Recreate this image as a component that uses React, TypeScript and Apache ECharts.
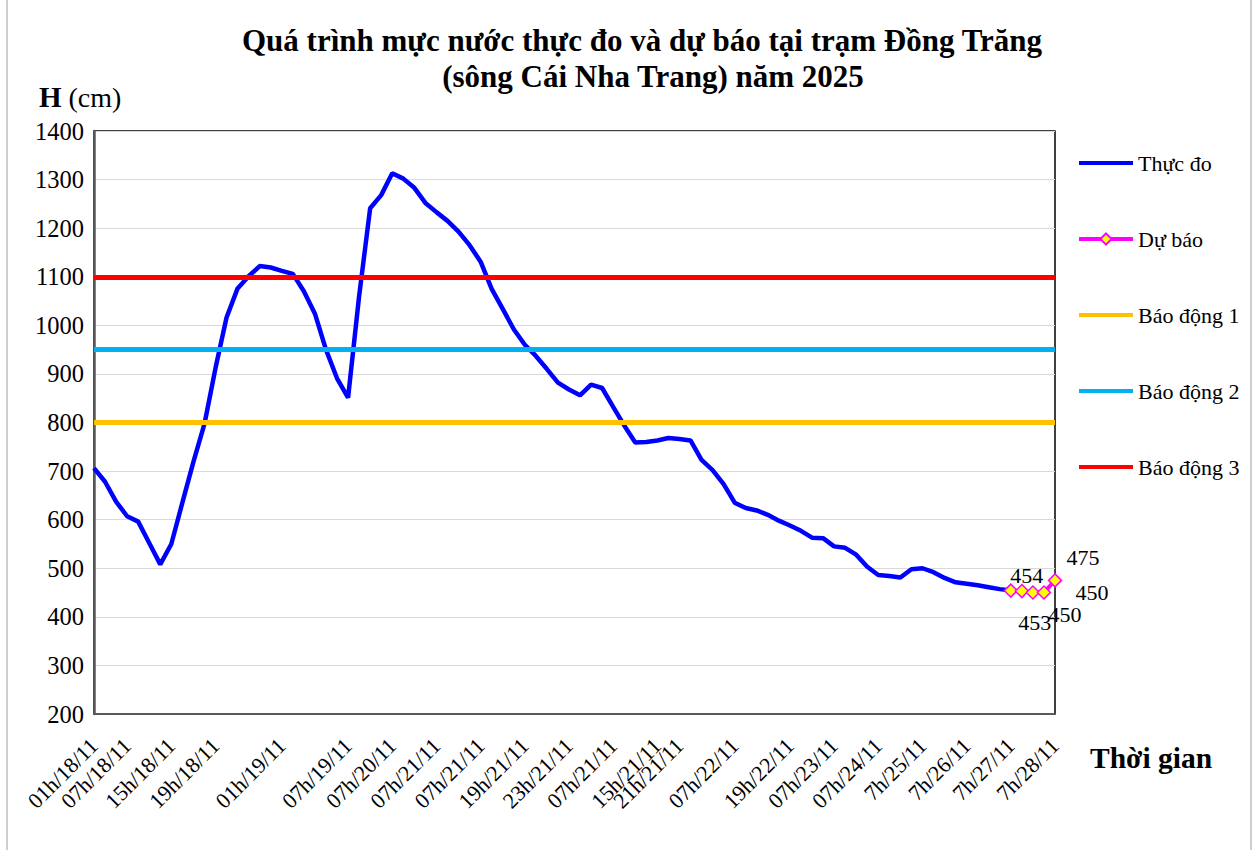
import React, { useEffect, useRef } from "react";
import * as echarts from "echarts";

// ---- data ----
const labelIndex = [0, 3, 7, 11, 17, 23, 27, 31, 35, 39, 43, 47, 51, 53, 58, 63, 67, 71, 75, 79, 83, 87];
const labelText = [
  "01h/18/11", "07h/18/11", "15h/18/11", "19h/18/11", "01h/19/11", "07h/19/11",
  "07h/20/11", "07h/21/11", "07h/21/11", "19h/21/11", "23h/21/11", "07h/21/11",
  "15h/21/11", "21h/21/11", "07h/22/11", "19h/22/11", "07h/23/11", "07h/24/11",
  "7h/25/11", "7h/26/11", "7h/27/11", "7h/28/11",
];
const measured = [
  706, 678, 637, 607, 596, 552, 508, 550, 635, 719,
  797, 912, 1016, 1076, 1101, 1122, 1119, 1112, 1106, 1070,
  1024, 950, 891, 851, 1060, 1241, 1268, 1313, 1302, 1283,
  1252, 1233, 1215, 1193, 1165, 1131, 1075, 1034, 992, 960,
  937, 910, 882, 868, 856, 878, 871, 832, 794, 759,
  760, 763, 768, 766, 763, 723, 702, 673, 635, 624,
  619, 610, 598, 588, 577, 563, 562, 545, 542, 528,
  503, 486, 484, 481, 498, 500, 492, 480, 471, 468,
  465, 461, 457, 454,
];
const forecast = [454, 453, 450, 450, 475];
const forecastStart = 83;
const alarm1 = 800;
const alarm2 = 950;
const alarm3 = 1100;
const yMin = 200;
const yMax = 1400;
const yStep = 100;

const seriesNames = ["Thực đo", "Dự báo", "Báo động 1", "Báo động 2", "Báo động 3"];

// ---- style ----
const FONT = "'Liberation Serif', 'Times New Roman', serif";
const forecastLabelOffset = [[16, -15], [13, 31], [32, 22], [48, 0], [28, -23]];
// thick line legend icon (bounding box 54x14, strip in the middle)
const LINE_ICON =
  "path://M0,0L0.01,0L0.01,0.01Z M0,5L54,5L54,9L0,9Z M54,14L53.99,14L53.99,13.99Z";

const pointCount = forecastStart + forecast.length;
const categories = Array.from({ length: pointCount }, (_, i) => {
  const k = labelIndex.indexOf(i);
  return k >= 0 ? labelText[k] : "";
});

function alarmSeries(name: string, value: number, color: string) {
  return {
    name,
    type: "line",
    data: [],
    color,
    symbol: "none",
    lineStyle: { color, width: 5 },
    z: 3,
    markLine: {
      silent: true,
      symbol: ["none", "none"],
      label: { show: false },
      lineStyle: { color, width: 5, type: "solid" },
      data: [{ yAxis: value }],
    },
  };
}

export default function App() {
  const ref = useRef<HTMLDivElement>(null);
  useEffect(() => {
    if (!ref.current) return;
    const chart = echarts.init(ref.current, undefined, { renderer: "svg" });
    const measuredData = categories.map((_, i) => (i < measured.length ? measured[i] : null));
    const forecastData = categories.map((_, i) => {
      const k = i - forecastStart;
      return k < 0 ? null : forecast[k];
    });
    chart.setOption({
      animation: false,
      backgroundColor: "#fff",
      textStyle: { fontFamily: FONT },
      graphic: [
        {
          type: "rect",
          shape: { x: 7, y: -4, width: 1244, height: 862 },
          style: { fill: "none", stroke: "#BFBFBF", lineWidth: 1.5 },
          silent: true,
        },
        {
          type: "text",
          x: 642,
          y: 40,
          style: {
            text: "Quá trình mực nước thực đo và dự báo tại trạm Đồng Trăng",
            fontFamily: FONT,
            fontSize: 31,
            fontWeight: "bold",
            fill: "#000",
            textAlign: "center",
            textVerticalAlign: "middle",
          },
        },
        {
          type: "text",
          x: 653,
          y: 76,
          style: {
            text: "(sông Cái Nha Trang) năm 2025",
            fontFamily: FONT,
            fontSize: 31,
            fontWeight: "bold",
            fill: "#000",
            textAlign: "center",
            textVerticalAlign: "middle",
          },
        },
        {
          type: "text",
          x: 39,
          y: 97,
          style: {
            text: "{b|H} (cm)",
            rich: { b: { fontWeight: "bold", fontFamily: FONT, fontSize: 29 } },
            fontFamily: FONT,
            fontSize: 28,
            fill: "#000",
            textVerticalAlign: "middle",
          },
        },
        {
          type: "text",
          x: 1090,
          y: 758,
          style: {
            text: "Thời gian",
            fontFamily: FONT,
            fontSize: 29.5,
            fontWeight: "bold",
            fill: "#000",
            textVerticalAlign: "middle",
          },
        },
      ],
      legend: {
        orient: "vertical",
        left: 1077,
        top: 152,
        padding: 0,
        itemWidth: 54,
        itemHeight: 14,
        itemGap: 54,
        data: [
          { name: seriesNames[0], icon: LINE_ICON },
          { name: seriesNames[1], lineStyle: { width: 4, color: "#FF00FF" } },
          { name: seriesNames[2], icon: LINE_ICON },
          { name: seriesNames[3], icon: LINE_ICON },
          { name: seriesNames[4], icon: LINE_ICON },
        ],
        textStyle: { fontFamily: FONT, fontSize: 22, color: "#000" },
      },
      grid: {
        left: 94,
        right: 200,
        top: 131,
        bottom: 136,
        show: true,
        borderColor: "#000",
        borderWidth: 1.5,
        backgroundColor: "transparent",
      },
      xAxis: {
        type: "category",
        data: categories,
        boundaryGap: false,
        axisLine: { lineStyle: { color: "#595959", width: 2 } },
        axisTick: { show: false },
        axisLabel: {
          interval: (index: number) => labelIndex.includes(index),
          rotate: 45,
          margin: 28,
          fontFamily: FONT,
          fontSize: 22,
          color: "#000",
        },
        splitLine: { show: false },
      },
      yAxis: {
        type: "value",
        min: yMin,
        max: yMax,
        interval: yStep,
        axisLine: { show: true, lineStyle: { color: "#595959", width: 2.5 } },
        axisTick: { show: false },
        axisLabel: {
          margin: 10,
          fontFamily: FONT,
          fontSize: 24.5,
          color: "#000",
          formatter: (v: number) => String(v),
        },
        splitLine: { lineStyle: { color: "#D9D9D9", width: 1 } },
      },
      series: [
        {
          name: seriesNames[0],
          type: "line",
          data: measuredData,
          color: "#0000FF",
          symbol: "none",
          showSymbol: false,
          lineStyle: { color: "#0000FF", width: 4.5 },
          z: 2,
        },
        {
          name: seriesNames[1],
          type: "line",
          data: forecastData,
          color: "#FF00FF",
          symbol: "diamond",
          symbolSize: 13,
          showSymbol: true,
          showAllSymbol: true,
          clip: false,
          itemStyle: { color: "#FFFF00", borderColor: "#FF00FF", borderWidth: 1.5 },
          lineStyle: { color: "#FF00FF", width: 4 },
          label: {
            show: true,
            position: "inside",
            fontFamily: FONT,
            fontSize: 22,
            color: "#000",
          },
          labelLayout: (params: any) => {
            const k = params.dataIndex - forecastStart;
            const off = forecastLabelOffset[k] || [0, 0];
            return { dx: off[0], dy: off[1], hideOverlap: false };
          },
          z: 5,
        },
        alarmSeries(seriesNames[2], alarm1, "#FFC000"),
        alarmSeries(seriesNames[3], alarm2, "#00B0F0"),
        alarmSeries(seriesNames[4], alarm3, "#FF0000"),
      ],
    });
    return () => chart.dispose();
  }, []);
  return (
    <div
      ref={ref}
      style={{ position: "fixed", left: 0, top: 0, width: 1255, height: 850 }}
    />
  );
}
